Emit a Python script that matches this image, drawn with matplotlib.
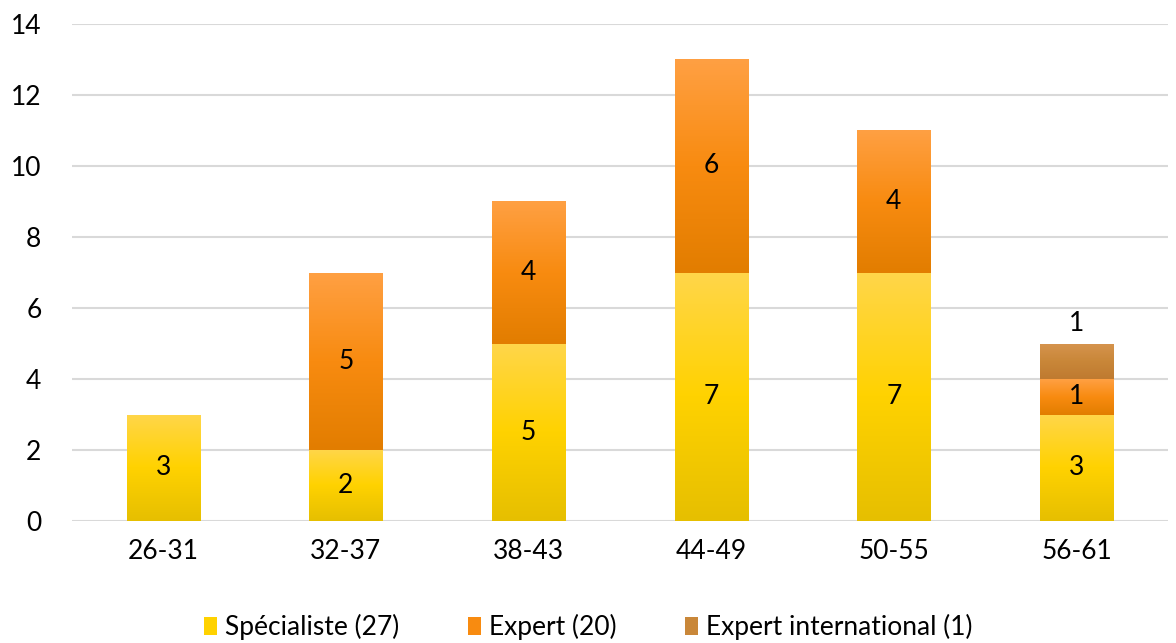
import numpy as np
import matplotlib
matplotlib.use("Agg")
import matplotlib.pyplot as plt
from matplotlib.colors import LinearSegmentedColormap
from matplotlib.patches import Patch

categories = ["26-31", "32-37", "38-43", "44-49", "50-55", "56-61"]
specialiste = [3, 2, 5, 7, 7, 3]
expert = [0, 5, 4, 6, 4, 1]
expert_int = [0, 0, 0, 0, 0, 1]
legend_labels = ["Spécialiste (27)", "Expert (20)", "Expert international (1)"]

plt.rcParams['font.family'] = ['Lato', 'DejaVu Sans']

fig = plt.figure(figsize=(11.76, 6.43), dpi=100)
ax = fig.add_axes([0.0612, 0.1897, 0.9318, 0.773])

x = np.arange(len(categories))
width = 0.4
FS = 19

grads = [
    ("#FFD64A", "#FFD200", "#E6BF00"),
    ("#FFA043", "#F88B10", "#E27D00"),
    ("#D6944E", "#C98739", "#BF7A30"),
]
solid = ["#FFD200", "#F88B10", "#C98739"]

bottom = np.zeros(len(categories))
series = [specialiste, expert, expert_int]
for vals, g, col in zip(series, grads, solid):
    vals = np.array(vals, dtype=float)
    bars = ax.bar(x, vals, width, bottom=bottom, color=col, zorder=2, linewidth=0)
    cmap = LinearSegmentedColormap.from_list("g", [g[2], g[1], g[0]])
    grad = np.linspace(0, 1, 256).reshape(-1, 1)
    for b, v in zip(bars, vals):
        if v <= 0:
            continue
        x0, y0 = b.get_x(), b.get_y()
        im = ax.imshow(grad, cmap=cmap, origin="lower", aspect="auto",
                       extent=[x0, x0 + b.get_width(), y0, y0 + b.get_height()],
                       zorder=2.5, interpolation="bilinear")
        im.set_clip_path(b)
    bottom = bottom + vals

for i in range(len(categories)):
    s, e, it = specialiste[i], expert[i], expert_int[i]
    if s > 0:
        ax.text(x[i], s / 2, str(s), ha="center", va="center", fontsize=FS, color="#000000", zorder=5)
    if e > 0:
        ax.text(x[i], s + e / 2, str(e), ha="center", va="center", fontsize=FS, color="#000000", zorder=5)
    if it > 0:
        ax.text(x[i], s + e + it + 0.55, str(it), ha="center", va="center", fontsize=FS, color="#000000", zorder=5)

ax.set_xlim(-0.5, len(categories) - 0.5)
ax.set_ylim(0, 14)
ax.set_yticks(range(0, 15, 2))
ax.set_xticks(x)
ax.set_xticklabels(categories)
ax.tick_params(axis="both", length=0, labelsize=FS, colors="#000000")
ax.tick_params(axis="x", pad=13)
ax.tick_params(axis="y", pad=22)
ax.grid(axis="y", color="#D9D9D9", linewidth=1.5, zorder=0)
ax.set_axisbelow(True)
for sp in ax.spines.values():
    sp.set_visible(False)

handles = [Patch(facecolor=c, edgecolor="none") for c in solid]
leg = fig.legend(handles, legend_labels, loc="center", bbox_to_anchor=(0.5, 0.025),
                 ncol=3, frameon=False, fontsize=FS, handlelength=0.5, handleheight=0.7,
                 handletextpad=0.3, columnspacing=2.6)

fig.savefig("out.png", dpi=100)
